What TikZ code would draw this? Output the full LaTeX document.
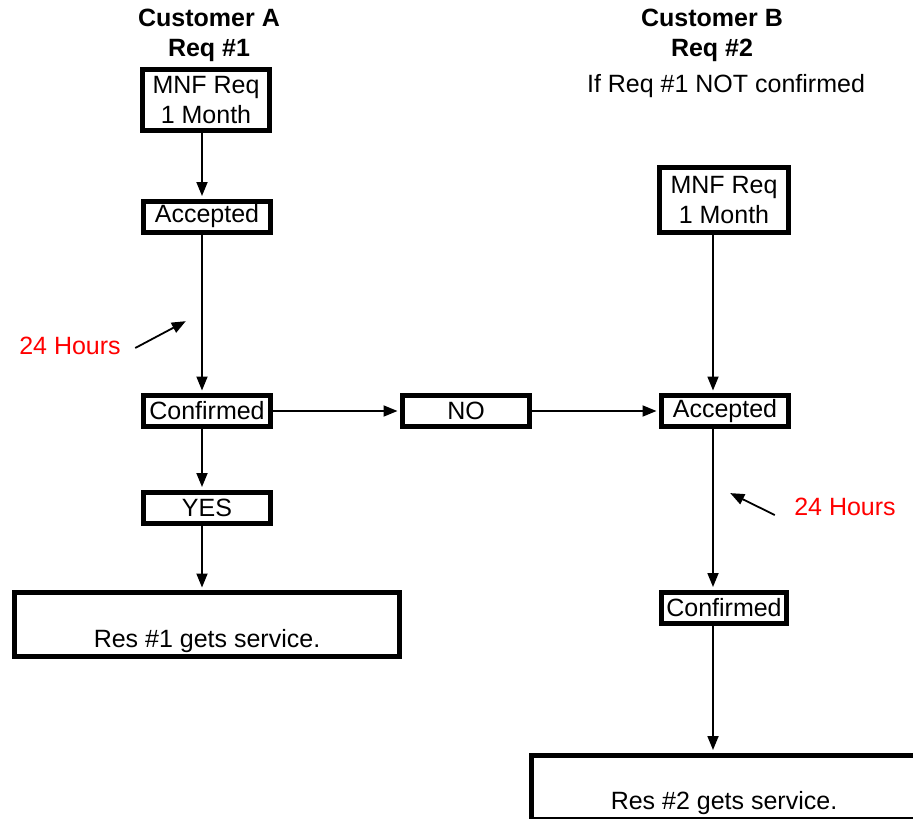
\documentclass[tikz,border=0pt]{standalone}
\usepackage{fontspec}
\setmainfont{Liberation Sans}
\usetikzlibrary{arrows.meta}

\begin{document}
\begin{tikzpicture}[x=1pt,y=-1pt,
	box/.style={draw,line width=5pt,minimum width=127pt,minimum height=31pt,inner sep=1pt,align=center,font=\fontsize{25}{30}\selectfont},
	resbox/.style={box,minimum width=385pt,minimum height=64pt},
	head/.style={font=\fontsize{25}{30}\selectfont\bfseries},
	hours/.style={text=red,font=\fontsize{25}{30}\selectfont},
	flow/.style={line width=1.8pt,-{Triangle[length=14pt,width=11pt]},shorten >=2.5pt}]

	\useasboundingbox (0,0) rectangle (913,819);

	% Customer A
	\node[head] (custa) at (209,18) {Customer A};
	\node[head] (reqa) at (209,50) {Req \#1};
	\node[box, minimum height=61pt] (mnfa) at (206,100) {MNF Req\\1 Month};
	\node[box] (acca) at (207,216.5) {Accepted};
	\node[box] (confa) at (207,411) {Confirmed};
	\node[box] (yes) at (207,507.5) {YES};
	\node[resbox] (resa) at (207,624.5) {\strut\\Res \#1 gets service.};
	\node[hours] (hrsa) at (70,346) {24 Hours};
	\coordinate (tipa) at (188,320);

	\node[box] (no) at (466,411) {NO};

	% Customer B
	\node[head] (custb) at (712,18) {Customer B};
	\node[head] (reqb) at (712,50) {Req \#2};
	\node[font=\fontsize{25}{30}\selectfont] (cond) at (726,86) {If Req \#1 NOT confirmed};
	\node[box, minimum width=129pt, minimum height=65pt] (mnfb) at (724,200) {MNF Req\\1 Month};
	\node[box] (accb) at (725,411) {Accepted};
	\node[box, minimum width=125pt] (confb) at (724,607.5) {Confirmed};
	\node[resbox] (resb) at (724,787) {\strut\\Res \#2 gets service.};
	\node[hours] (hrsb) at (845,507) {24 Hours};
	\coordinate (tipb) at (728,492);

	\path[flow] ([xshift=-4pt]mnfa.south) edge ([xshift=-5pt]acca.north);
	\path[flow] ([xshift=-5pt]acca.south) edge ([xshift=-5pt]confa.north);
	\path[flow] ([xshift=-5pt]confa.south) edge ([xshift=-5pt]yes.north);
	\path[flow] ([xshift=-5pt]yes.south) edge ([xshift=-5pt]resa.north);
	\path[flow] (confa.east) edge (no.west);
	\path[flow] (no.east) edge (accb.west);
	\path[flow] ([xshift=-11pt]mnfb.south) edge ([xshift=-12pt]accb.north);
	\path[flow] ([xshift=-12pt]accb.south) edge ([xshift=-11pt]confb.north);
	\path[flow] ([xshift=-11pt]confb.south) edge ([xshift=-11pt]resb.north);

	\path[flow] ([xshift=11pt,yshift=-2pt]hrsa.east) edge (tipa);
	\path[flow] ([xshift=-16pt,yshift=-8pt]hrsb.west) edge (tipb);

\end{tikzpicture}
\end{document}
